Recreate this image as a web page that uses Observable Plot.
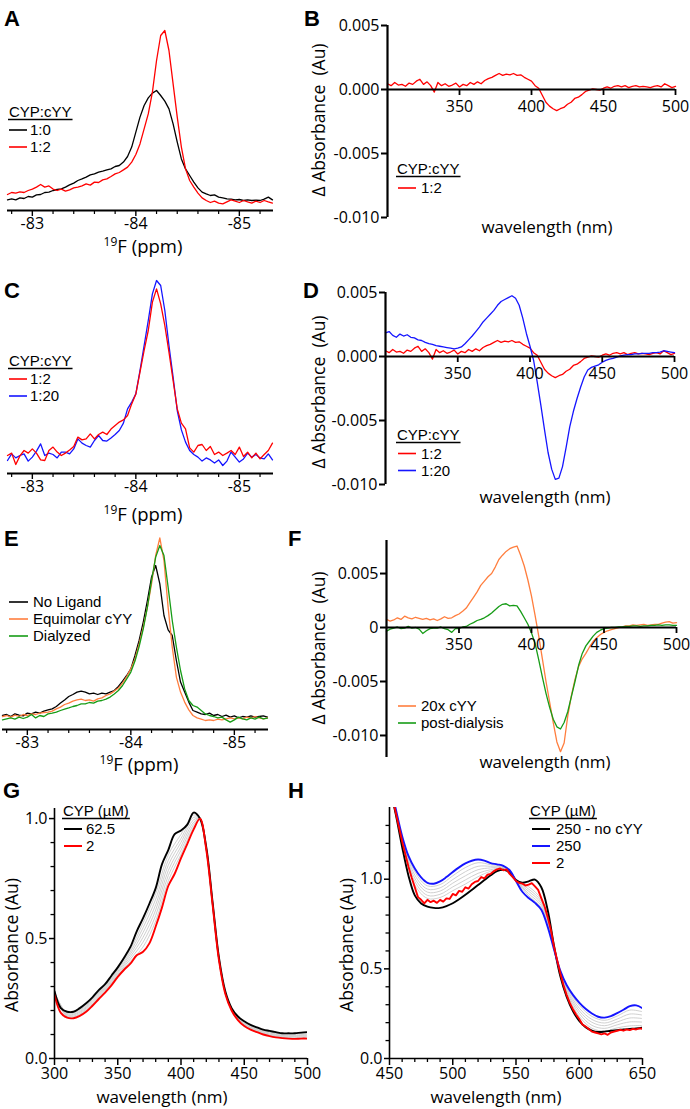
<!DOCTYPE html>
<html><head><meta charset="utf-8">
<script src="https://cdn.jsdelivr.net/npm/d3@7"></script>
<script src="https://cdn.jsdelivr.net/npm/@observablehq/plot@0.6"></script>
<style>
html,body{margin:0;padding:0;background:#fff;}
#fig{position:relative;width:690px;height:1109px;overflow:hidden;}
</style></head><body><div id="fig"></div>
<script>
// ---------------- DATA ----------------
// 19F NMR chemical shift grid (ppm) and intensities (arbitrary units)
const NMR_PPM = [-82.76,-82.80,-82.84,-82.88,-82.92,-82.96,-83.00,-83.04,-83.08,-83.12,
-83.16,-83.20,-83.24,-83.28,-83.32,-83.36,-83.40,-83.44,-83.48,-83.52,
-83.56,-83.60,-83.64,-83.68,-83.72,-83.76,-83.80,-83.84,-83.88,-83.92,
-83.96,-84.00,-84.04,-84.08,-84.12,-84.16,-84.20,-84.24,-84.28,-84.32,
-84.36,-84.40,-84.44,-84.48,-84.52,-84.56,-84.60,-84.64,-84.68,-84.72,
-84.76,-84.80,-84.84,-84.88,-84.92,-84.96,-85.00,-85.04,-85.08,-85.12,
-85.16,-85.20,-85.24,-85.28,-85.32];
const A_1TO0 = [5.3,5.8,5.3,6.3,6.0,7.0,6.7,7.8,8.0,9.0,
9.2,10.0,10.5,10.8,11.7,12.8,13.7,15.0,15.8,16.7,
17.8,18.3,19.2,19.7,20.3,20.8,22.0,22.5,24.2,27.0,
31.7,39.2,46.7,52.5,56.3,58.7,60.0,57.5,54.7,50.8,
43.3,34.2,25.8,20.8,17.5,14.2,11.3,9.2,8.3,7.5,
7.8,6.7,6.3,5.8,5.7,5.3,5.5,5.0,5.3,5.0,
5.2,5.0,5.7,6.7,5.3];
const A_1TO2 = [8.0,9.0,8.7,9.3,9.0,10.0,10.7,11.7,13.0,11.7,
12.3,10.7,10.0,10.7,9.7,10.3,11.3,11.7,12.3,13.3,
12.7,14.2,14.0,15.3,15.8,17.0,18.3,19.0,20.3,21.7,
24.2,28.0,33.3,40.8,48.3,59.2,75.0,87.5,90.0,80.0,
63.3,46.7,31.7,20.8,15.0,11.7,8.7,6.3,5.0,4.0,
4.7,3.7,3.3,4.3,5.3,4.7,4.0,5.0,4.3,3.7,
4.7,4.0,5.0,4.3,3.7];
const C_1TO2 = [9.0,10.2,4.5,8.8,11.5,10.2,12.3,10.2,6.8,6.5,
11.5,13.2,10.7,9.0,10.2,11.8,13.5,18.2,16.8,17.3,
19.8,17.3,19.5,20.7,19.5,22.2,24.0,25.7,26.8,29.0,
34.8,39.8,50.7,61.5,71.5,85.7,92.3,84.8,74.0,60.7,
46.5,32.3,25.2,22.3,12.8,10.7,14.0,14.5,11.5,13.5,
9.5,10.7,9.0,10.2,11.5,9.5,13.2,8.5,10.7,7.8,
10.2,7.3,9.5,11.5,15.2];
const C_1TO20 = [6.5,9.8,7.8,9.0,9.8,6.2,8.2,11.2,14.8,9.0,
10.2,9.5,7.8,10.7,10.7,9.8,12.3,17.3,15.2,14.0,
13.2,16.5,19.0,16.5,16.2,17.8,19.5,21.5,25.2,32.3,
35.7,39.8,51.5,64.0,76.5,89.8,96.5,94.0,81.5,64.0,
48.2,31.5,21.8,15.7,11.5,9.5,8.2,6.2,7.8,6.8,
5.2,6.8,4.0,6.2,10.7,8.2,5.7,7.3,10.2,8.2,
9.5,7.8,7.3,9.8,6.8];
const E_NOLIG = [7.0,7.5,6.5,7.8,7.2,6.8,8.2,7.8,8.7,8.2,
9.2,9.8,10.3,11.5,13.2,14.8,16.5,17.5,18.7,19.2,
18.7,17.8,18.2,17.5,18.2,17.8,18.7,19.5,21.5,24.2,
27.0,30.3,37.0,44.5,53.7,64.5,76.2,82.0,72.8,57.0,
49.8,47.0,34.5,23.7,18.7,13.7,9.5,8.7,7.8,7.5,
8.2,7.0,7.5,6.5,7.2,6.2,6.8,5.8,6.5,6.2,
6.8,6.2,6.5,6.8,6.2];
const E_EQUI = [6.5,7.0,6.2,7.2,6.5,7.5,7.0,7.8,7.5,8.2,
8.5,8.7,9.2,10.3,11.2,12.5,13.2,14.2,14.8,15.2,
14.5,14.8,14.2,15.3,15.8,17.0,17.8,19.2,20.8,23.2,
26.5,30.3,35.3,42.8,51.2,61.2,72.8,87.0,95.8,84.5,
61.2,41.2,26.2,18.7,13.7,9.8,7.0,5.8,5.2,4.5,
4.8,4.5,5.2,4.8,5.3,5.8,5.3,5.8,5.3,6.2,
5.8,6.5,5.8,5.3,5.8];
const E_DIAL = [4.8,5.3,5.8,5.2,6.2,5.5,6.2,7.5,5.8,7.0,
6.5,7.8,8.2,8.7,9.5,10.2,10.8,11.5,12.0,12.8,
12.8,13.5,13.2,14.2,14.5,15.2,16.2,17.8,19.5,22.0,
25.3,28.7,34.2,41.5,50.3,61.2,74.5,86.2,92.0,87.0,
71.2,54.5,41.2,29.5,20.3,14.5,12.0,11.2,9.5,7.8,
7.0,6.5,5.8,6.2,4.8,3.7,4.8,6.2,5.3,4.8,
5.8,5.2,6.2,5.3,5.7];

// Difference spectra: wavelength (nm) and delta absorbance in units of 1e-4
const DIFF_WL = [300,302.5,305,307.5,310,312.5,315,317.5,320,322.5,325,327.5,330,332.5,335,337.5,340,342.5,345,347.5,
350,352.5,355,357.5,360,362.5,365,367.5,370,372.5,375,377.5,380,382.5,385,387.5,390,392.5,395,397.5,
400,402.5,405,407.5,410,412.5,415,417.5,420,422.5,425,427.5,430,432.5,435,437.5,440,442.5,445,447.5,
450,452.5,455,457.5,460,462.5,465,467.5,470,472.5,475,477.5,480,482.5,485,487.5,490,492.5,495,497.5,500];
const DIFF_1TO2_E4 = [4.5,3.0,5.5,3.5,4.0,2.5,5.0,4.0,6.5,8.0,4.0,6.0,3.0,-2.0,5.5,3.0,4.5,2.5,3.5,5.0,
2.0,4.0,3.0,5.5,4.0,6.0,4.5,7.0,8.5,9.5,11.0,12.5,11.0,12.0,11.5,12.5,11.0,11.5,9.5,8.0,
6.5,3.0,1.0,-4.5,-10.0,-13.0,-15.0,-16.5,-15.0,-14.0,-11.5,-10.0,-7.0,-6.0,-4.0,-1.5,-0.5,0.5,0.0,-0.5,
1.0,2.0,1.0,2.5,3.0,2.0,3.0,1.5,2.5,3.0,2.0,2.5,2.0,1.5,2.5,3.0,2.0,4.5,3.0,1.5,2.5];
const DIFF_1TO20_E4 = [18.5,19.5,16.5,15.0,17.5,16.0,17.0,15.0,14.5,13.0,12.5,11.0,10.0,9.5,8.5,8.0,7.5,7.0,6.5,6.0,
6.5,7.5,10.0,13.0,16.0,19.5,23.0,27.0,30.0,33.0,36.0,40.0,43.0,44.5,46.0,47.5,45.5,40.0,30.0,18.0,
8.0,-3.0,-20.0,-38.0,-57.0,-75.0,-88.0,-96.0,-95.0,-86.0,-71.0,-55.0,-43.0,-33.0,-24.0,-16.0,-10.5,-8.5,-7.5,-6.5,
-4.5,-3.0,-2.0,-1.5,-0.5,0.5,1.0,1.5,1.5,2.0,2.0,2.5,2.5,2.5,3.0,3.0,3.5,4.5,4.0,3.5,3.0];
const DIFF_20X_E4 = [7.5,6.0,7.0,9.0,7.5,10.5,9.0,8.0,9.5,8.5,7.5,8.5,7.0,8.0,6.5,8.0,10.0,8.5,9.0,11.0,
12.5,15.0,18.0,23.0,28.0,33.0,39.0,43.0,47.0,50.0,56.0,63.0,67.0,70.5,73.0,74.5,75.5,67.0,57.0,44.0,
29.0,11.0,-8.0,-29.0,-50.0,-69.0,-88.0,-106.0,-115.0,-107.0,-82.0,-63.0,-48.0,-36.0,-29.0,-24.0,-18.0,-13.0,-9.5,-6.5,
-4.5,-3.0,-2.0,-1.0,0.0,0.5,1.5,1.5,2.5,2.0,2.5,3.0,2.0,2.5,3.0,3.0,4.0,5.0,5.5,4.0,4.5];
const DIFF_POST_E4 = [-3.5,-1.5,-0.5,0.5,-1.0,-0.5,1.0,-0.5,0.0,-1.5,-5.5,-3.0,-1.0,-0.5,-0.5,0.5,-1.0,-2.0,-4.5,-1.0,
-1.0,0.5,1.0,3.0,4.5,6.5,7.5,9.0,11.0,13.5,16.5,19.5,21.5,22.0,20.0,20.5,20.0,15.0,9.0,3.0,
-5.0,-15.0,-30.0,-46.0,-61.0,-74.0,-85.0,-92.0,-94.0,-88.0,-78.0,-64.0,-50.0,-35.0,-24.0,-17.0,-12.5,-8.0,-4.5,-2.5,
-1.0,-0.5,0.0,0.0,0.5,0.5,1.0,1.0,1.5,1.5,1.0,1.5,1.5,2.0,2.0,2.5,2.0,2.5,2.5,2.0,2.0];

// Panel G: absorbance titration (Soret region)
const G_WL = [300,305,310,315,320,325,330,335,340,345,350,355,360,365,370,375,380,385,390,395,400,405,410,415,420,425,430,435,440,445,450,455,460,465,470,475,480,485,490,495,500];
const G_625 = [0.28,0.21,0.195,0.195,0.21,0.23,0.255,0.285,0.31,0.345,0.38,0.42,0.465,0.53,0.585,0.645,0.71,0.81,0.87,0.935,0.95,0.975,1.025,1.0,0.88,0.65,0.42,0.28,0.21,0.175,0.155,0.14,0.13,0.12,0.115,0.11,0.105,0.105,0.105,0.108,0.11];
const G_2 = [0.265,0.19,0.17,0.168,0.178,0.195,0.22,0.248,0.275,0.305,0.34,0.37,0.395,0.43,0.445,0.48,0.55,0.63,0.72,0.77,0.835,0.895,0.955,1.0,0.87,0.64,0.41,0.27,0.2,0.16,0.135,0.12,0.11,0.1,0.093,0.088,0.085,0.083,0.082,0.083,0.083];
const G_GRAY_WL = [300,310,320,330,340,350,360,370,380,390,400,410,415,420,425,430,435,440,450,460,470,480,490,500];
const G_GRAYS = [
 [0.267,0.174,0.183,0.225,0.28,0.346,0.405,0.465,0.573,0.741,0.851,0.965,1.0,0.871,0.641,0.411,0.271,0.201,0.138,0.113,0.096,0.088,0.085,0.087],
 [0.269,0.177,0.187,0.23,0.285,0.351,0.415,0.485,0.596,0.763,0.868,0.975,1.0,0.873,0.643,0.413,0.273,0.203,0.141,0.116,0.099,0.091,0.089,0.091],
 [0.271,0.181,0.192,0.235,0.29,0.357,0.425,0.505,0.619,0.784,0.884,0.985,1.0,0.874,0.644,0.414,0.274,0.204,0.144,0.119,0.102,0.094,0.092,0.095],
 [0.274,0.184,0.196,0.24,0.295,0.363,0.435,0.525,0.641,0.806,0.901,0.995,1.0,0.876,0.646,0.416,0.276,0.206,0.146,0.121,0.106,0.096,0.095,0.098],
 [0.276,0.188,0.201,0.245,0.3,0.369,0.445,0.545,0.664,0.827,0.917,1.005,1.0,0.877,0.647,0.417,0.277,0.207,0.149,0.124,0.109,0.099,0.098,0.102],
 [0.278,0.191,0.205,0.25,0.305,0.374,0.455,0.565,0.687,0.849,0.934,1.015,1.0,0.879,0.649,0.419,0.279,0.209,0.152,0.127,0.112,0.102,0.102,0.106]
];

// Panel H: absorbance titration (Q-band region)
const H_WL = [450,455,460,465,470,475,480,485,490,495,500,505,510,515,520,525,530,535,540,545,550,555,560,565,570,575,580,585,590,595,600,605,610,615,620,625,630,635,640,645,650];
const H_250_NOCYY = [1.52,1.36,1.18,1.02,0.91,0.865,0.847,0.84,0.84,0.85,0.866,0.888,0.913,0.94,0.968,0.995,1.022,1.045,1.053,1.04,0.995,0.98,0.988,0.998,0.955,0.83,0.63,0.46,0.345,0.265,0.21,0.175,0.156,0.148,0.15,0.155,0.158,0.162,0.165,0.168,0.172];
const H_250 = [1.55,1.39,1.24,1.13,1.06,1.01,0.98,0.975,0.988,1.012,1.04,1.066,1.088,1.103,1.11,1.104,1.09,1.083,1.075,1.05,0.99,0.93,0.895,0.868,0.83,0.735,0.61,0.49,0.41,0.355,0.312,0.277,0.251,0.233,0.228,0.236,0.253,0.272,0.292,0.296,0.28];
const H_RED_WL = [450,452.5,455,457.5,460,462.5,465,467.5,470,472.5,475,477.5,480,482.5,485,487.5,490,492.5,495,497.5,
500,502.5,505,507.5,510,512.5,515,517.5,520,522.5,525,527.5,530,532.5,535,537.5,540,542.5,545,547.5,
550,552.5,555,557.5,560,562.5,565,567.5,570,572.5,575,577.5,580,582.5,585,587.5,590,592.5,595,597.5,
600,602.5,605,607.5,610,612.5,615,617.5,620,622.5,625,627.5,630,632.5,635,637.5,640,642.5,645,647.5,650];
const H_2 = [1.53,1.45,1.37,1.29,1.21,1.14,1.07,1.01,0.955,0.9,0.885,0.865,0.885,0.872,0.88,0.868,0.885,0.875,0.893,0.89,
0.918,0.91,0.935,0.93,0.955,0.948,0.972,0.985,0.99,1.012,1.005,1.025,1.03,1.045,1.055,1.06,1.05,1.055,1.03,1.012,
0.99,0.98,0.975,0.965,0.97,0.978,0.96,0.94,0.895,0.85,0.79,0.72,0.625,0.55,0.475,0.41,0.355,0.31,0.275,0.245,
0.22,0.19,0.178,0.165,0.15,0.145,0.14,0.135,0.14,0.132,0.145,0.15,0.155,0.16,0.155,0.162,0.158,0.165,0.162,0.168,0.165];
const H_GRAY_WL = [450,455,460,470,480,490,500,510,520,530,540,550,560,570,575,580,585,590,600,610,620,630,640,650];
const H_GRAYS = [
 [1.533,1.373,1.215,0.968,0.893,0.898,0.936,0.973,1.014,1.044,1.056,0.99,0.958,0.888,0.781,0.623,0.478,0.364,0.235,0.169,0.153,0.171,0.182,0.184],
 [1.537,1.377,1.22,0.987,0.91,0.916,0.957,0.996,1.033,1.053,1.06,0.99,0.945,0.877,0.772,0.62,0.48,0.373,0.251,0.185,0.168,0.188,0.204,0.203],
 [1.54,1.38,1.225,1.005,0.928,0.934,0.978,1.019,1.053,1.063,1.064,0.99,0.933,0.865,0.763,0.618,0.483,0.383,0.266,0.202,0.183,0.204,0.226,0.223],
 [1.543,1.383,1.23,1.023,0.945,0.952,0.998,1.042,1.072,1.072,1.067,0.99,0.92,0.853,0.753,0.615,0.485,0.392,0.281,0.218,0.198,0.22,0.248,0.242],
 [1.547,1.387,1.235,1.042,0.963,0.97,1.019,1.065,1.092,1.081,1.071,0.99,0.908,0.842,0.744,0.613,0.488,0.4,0.297,0.235,0.213,0.237,0.27,0.261]
];

// Tick values and labels
const NMR_MAJOR = [-83, -84, -85];
const NMR_MINOR = [-82.8, -83.2, -83.4, -83.6, -83.8, -84.2, -84.4, -84.6, -84.8, -85.2];
const DIFF_XTICKS = [350, 400, 450, 500];
const DIFF_YTICKS = [0.005, 0, -0.005, -0.010];
const BD_YLABELS = ["0.005", "0.000", "-0.005", "-0.010"];
const F_YLABELS = ["0.005", "0", "-0.005", "-0.010"];
const G_XMAJOR = [300, 350, 400, 450, 500];
const G_XMINOR = [310, 320, 330, 340, 360, 370, 380, 390, 410, 420, 430, 440, 460, 470, 480, 490];
const H_XMAJOR = [450, 500, 550, 600, 650];
const H_XMINOR = [460, 470, 480, 490, 510, 520, 530, 540, 560, 570, 580, 590, 610, 620, 630, 640];
const ABS_YMAJOR = [0, 0.5, 1.0];
const G_YMINOR = [0.1, 0.2, 0.3, 0.4, 0.6, 0.7, 0.8, 0.9];
const H_YMINOR = [0.1, 0.2, 0.3, 0.4, 0.6, 0.7, 0.8, 0.9, 1.1, 1.2, 1.3];

// ---------------- DRAWING ----------------
const BLACK = "#000", RED = "#ff0000", BLUE = "#1515ff", ORANGE = "#ff7e3e", GREEN = "#169c16", GRAY = "#c4c4c4";
const FONT = "'Open Sans', sans-serif";
const LEGEND_FONT = "'Liberation Sans', Arial, sans-serif";
const fig = document.getElementById("fig");
const rows = (xs, ys, k = 1) => xs.map((x, i) => ({x, y: ys[i] * k}));
const multi = (xs, yss) => yss.flatMap((ys, s) => xs.map((x, i) => ({x, y: ys[i], s})));

function place(opts, left, top) {
  const el = Plot.plot({...opts, style: {background: "transparent", overflow: "visible", fontFamily: FONT, fontSize: "16px", color: "#000"}});
  el.style.position = "absolute";
  el.style.left = left + "px";
  el.style.top = top + "px";
  fig.appendChild(el);
}

function nmrPanel(series, b) {
  place({
    width: b.w, height: b.h, marginLeft: b.ml, marginRight: b.mr, marginTop: b.mt, marginBottom: b.mb,
    x: {domain: [-85.33, -82.76], reverse: true, axis: null},
    y: {domain: [0, 90], axis: null},
    marks: [
      Plot.ruleY([0], {strokeWidth: 1.8}),
      Plot.axisX(NMR_MINOR, {tickSize: 4, tickFormat: () => "", strokeWidth: 1.2, label: null}),
      Plot.axisX(NMR_MAJOR, {tickSize: 6, tickPadding: 1, strokeWidth: 1.4, fontSize: 16, tickFormat: d => String(d), label: null}),
      ...series.map(s => Plot.line(rows(NMR_PPM, s.v), {x: "x", y: "y", stroke: s.c, strokeWidth: 1.3}))
    ]
  }, b.left, b.top);
}

function diffPanel(series, labels, yDomain, b) {
  place({
    width: b.w, height: b.h, marginLeft: b.ml, marginRight: b.mr, marginTop: b.mt, marginBottom: b.mb,
    x: {domain: [300, 500], axis: null},
    y: {domain: yDomain, axis: null},
    marks: [
      ...series.map(s => Plot.line(rows(DIFF_WL, s.v, 1e-4), {x: "x", y: "y", stroke: s.c, strokeWidth: 1.3})),
      Plot.ruleY([0], {strokeWidth: 2}),
      Plot.ruleX([300], {strokeWidth: 2.2}),
      Plot.axisY(DIFF_YTICKS, {tickSize: 6, tickPadding: 2, strokeWidth: 2, fontSize: 16, tickFormat: d => labels[DIFF_YTICKS.indexOf(d)], label: null}),
      Plot.ruleX(DIFF_XTICKS, {x: d => d, y1: 0, y2: 0, insetBottom: -6, strokeWidth: 1.8}),
      Plot.text(DIFF_XTICKS, {x: d => d, y: 0, dy: 17, text: d => String(d), fontSize: 16})
    ]
  }, b.left, b.top);
}

function absPanel(o, b) {
  place({
    width: b.w, height: b.h, marginLeft: b.ml, marginRight: b.mr, marginTop: b.mt, marginBottom: b.mb,
    x: {domain: o.xDomain, axis: null},
    y: {domain: o.yDomain, axis: null},
    marks: [
      Plot.line(multi(o.grayWl, o.grays), {x: "x", y: "y", z: "s", stroke: GRAY, strokeWidth: 0.8, curve: "catmull-rom", clip: true}),
      ...o.series.map(s => Plot.line(rows(s.wl, s.v), {x: "x", y: "y", stroke: s.c, strokeWidth: 1.9, curve: s.smooth ? "catmull-rom" : "linear", clip: true})),
      Plot.ruleX([o.xDomain[0]], {strokeWidth: 1.6}),
      Plot.ruleY([0], {strokeWidth: 1.6}),
      Plot.axisX(o.xMinor, {tickSize: 4, tickFormat: () => "", strokeWidth: 1.3, label: null}),
      Plot.axisX(o.xMajor, {tickSize: 7, tickPadding: 2, strokeWidth: 1.5, fontSize: 16, tickFormat: d => String(d), label: null}),
      Plot.axisY(o.yMinor, {tickSize: 3.5, tickFormat: () => "", strokeWidth: 1.3, label: null}),
      Plot.axisY(ABS_YMAJOR, {tickSize: 5, tickPadding: 2, strokeWidth: 1.5, fontSize: 16, tickFormat: d => d.toFixed(1), label: null})
    ]
  }, b.left, b.top);
}

// A, C, E: 19F NMR
nmrPanel([{v: A_1TO0, c: BLACK}, {v: A_1TO2, c: RED}], {left: 0, top: 0, w: 280, h: 240, ml: 7, mr: 7, mt: 30, mb: 30});
nmrPanel([{v: C_1TO20, c: BLUE}, {v: C_1TO2, c: RED}], {left: 0, top: 260, w: 280, h: 240, ml: 7, mr: 7, mt: 33, mb: 27});
nmrPanel([{v: E_NOLIG, c: BLACK}, {v: E_EQUI, c: ORANGE}, {v: E_DIAL, c: GREEN}], {left: 0, top: 520, w: 280, h: 240, ml: 2, mr: 12, mt: 29, mb: 31});

// B, D, F: difference spectra
diffPanel([{v: DIFF_1TO2_E4, c: RED}], BD_YLABELS, [-0.010, 0.005], {left: 330, top: 0, w: 360, h: 250, ml: 57, mr: 15, mt: 25, mb: 33});
diffPanel([{v: DIFF_1TO2_E4, c: RED}, {v: DIFF_1TO20_E4, c: BLUE}], BD_YLABELS, [-0.010, 0.005], {left: 330, top: 270, w: 360, h: 250, ml: 55, mr: 16, mt: 22, mb: 36});
diffPanel([{v: DIFF_20X_E4, c: ORANGE}, {v: DIFF_POST_E4, c: GREEN}], F_YLABELS, [-0.01204, 0.00806], {left: 330, top: 520, w: 360, h: 250, ml: 56, mr: 14, mt: 20, mb: 13});

// G, H: absorbance
absPanel({xDomain: [300, 500], yDomain: [0, 1.042], grayWl: G_GRAY_WL, grays: G_GRAYS,
  series: [{wl: G_WL, v: G_625, c: BLACK, smooth: true}, {wl: G_WL, v: G_2, c: RED, smooth: true}],
  xMinor: G_XMINOR, xMajor: G_XMAJOR, yMinor: G_YMINOR},
  {left: 0, top: 790, w: 330, h: 319, ml: 54, mr: 23, mt: 18, mb: 51});
absPanel({xDomain: [450, 650], yDomain: [0, 1.4], grayWl: H_GRAY_WL, grays: H_GRAYS,
  series: [{wl: H_WL, v: H_250_NOCYY, c: BLACK, smooth: true}, {wl: H_WL, v: H_250, c: BLUE, smooth: true}, {wl: H_RED_WL, v: H_2, c: RED, smooth: false}],
  xMinor: H_XMINOR, xMajor: H_XMAJOR, yMinor: H_YMINOR},
  {left: 330, top: 790, w: 360, h: 319, ml: 59, mr: 48, mt: 17, mb: 51});

// ---------------- ANNOTATIONS ----------------
const ov = d3.select(fig).append("svg").attr("width", 690).attr("height", 1109)
  .style("position", "absolute").style("left", "0px").style("top", "0px").style("overflow", "visible")
  .attr("font-family", FONT).attr("fill", "#000");

function txt(x, y, s, size, o = {}) {
  const t = ov.append("text").attr("font-size", size).style("white-space", "pre").text(s);
  if (o.rotate) t.attr("transform", `translate(${x},${y}) rotate(-90)`);
  else t.attr("x", x).attr("y", y);
  if (o.anchor) t.attr("text-anchor", o.anchor);
  if (o.weight) t.attr("font-weight", o.weight);
  if (o.family) t.attr("font-family", o.family);
  return t;
}

// Panel letters
[["A", 4, 26], ["B", 304, 26], ["C", 4, 298], ["D", 303, 298], ["E", 4, 546], ["F", 288, 546], ["G", 3, 798], ["H", 288, 798]]
  .forEach(([s, x, y]) => txt(x, y, s, 22, {weight: "bold", family: "'Liberation Sans', Arial, sans-serif"}));

// NMR x labels
function ppmLabel(cx, by) {
  const t = ov.append("text").attr("x", cx).attr("y", by).attr("text-anchor", "middle").attr("font-size", 18.5);
  t.append("tspan").attr("font-size", 12).attr("dy", -7).text("19");
  t.append("tspan").attr("dy", 7).text("F (ppm)");
}
ppmLabel(143, 253); ppmLabel(143, 521); ppmLabel(139, 771);

// Wavelength labels
[[547, 233], [545, 503], [545, 768], [162, 1103], [496, 1103]].forEach(([x, y]) => txt(x, y, "wavelength (nm)", 17, {anchor: "middle"}));

// Y labels
[[325, 120], [325, 392], [325, 648]].forEach(([x, y]) => txt(x, y, "\u0394 Absorbance  (Au)", 17.5, {rotate: true, anchor: "middle"}));
[[18, 945], [353, 945]].forEach(([x, y]) => txt(x, y, "Absorbance (Au)", 17.5, {rotate: true, anchor: "middle"}));

// Legends
const LEGENDS = [
  {title: "CYP:cYY", tx: 9, ty: 117, lx: [9, 27], textX: 30, w: 1.6, items: [["1:0", BLACK, 135], ["1:2", RED, 152]]},
  {title: "CYP:cYY", tx: 397, ty: 174, lx: [398, 416], textX: 421, w: 1.6, items: [["1:2", RED, 193]]},
  {title: "CYP:cYY", tx: 9, ty: 366, lx: [9, 27], textX: 30, w: 1.6, items: [["1:2", RED, 384], ["1:20", BLUE, 401]]},
  {title: "CYP:cYY", tx: 397, ty: 440, lx: [398, 416], textX: 421, w: 1.6, items: [["1:2", RED, 458.5], ["1:20", BLUE, 475.5]]},
  {title: null, lx: [9, 28], textX: 33, w: 1.6, items: [["No Ligand", BLACK, 607], ["Equimolar cYY", ORANGE, 624], ["Dialyzed", GREEN, 641]]},
  {title: null, lx: [398, 416], textX: 421, w: 1.6, items: [["20x cYY", ORANGE, 711], ["post-dialysis", GREEN, 728]]},
  {title: "CYP (\u00b5M)", tx: 63, ty: 816, lx: [64, 82], textX: 86, w: 2, items: [["62.5", BLACK, 834], ["2", RED, 851]]},
  {title: "CYP (\u00b5M)", tx: 530, ty: 816, lx: [532, 550], textX: 556, w: 2, items: [["250 - no cYY", BLACK, 834], ["250", BLUE, 851], ["2", RED, 868]]}
];
LEGENDS.forEach(L => {
  if (L.title) {
    const t = txt(L.tx, L.ty, L.title, 15, {family: LEGEND_FONT});
    const len = t.node().getComputedTextLength();
    ov.append("line").attr("x1", L.tx - 1).attr("x2", L.tx + len + 1).attr("y1", L.ty + 2.5).attr("y2", L.ty + 2.5)
      .attr("stroke", "#000").attr("stroke-width", 1.3);
  }
  L.items.forEach(([s, c, y]) => {
    ov.append("line").attr("x1", L.lx[0]).attr("x2", L.lx[1]).attr("y1", y - 5).attr("y2", y - 5)
      .attr("stroke", c).attr("stroke-width", L.w);
    txt(L.textX, y, s, 15, {family: LEGEND_FONT});
  });
});
</script></body></html>
